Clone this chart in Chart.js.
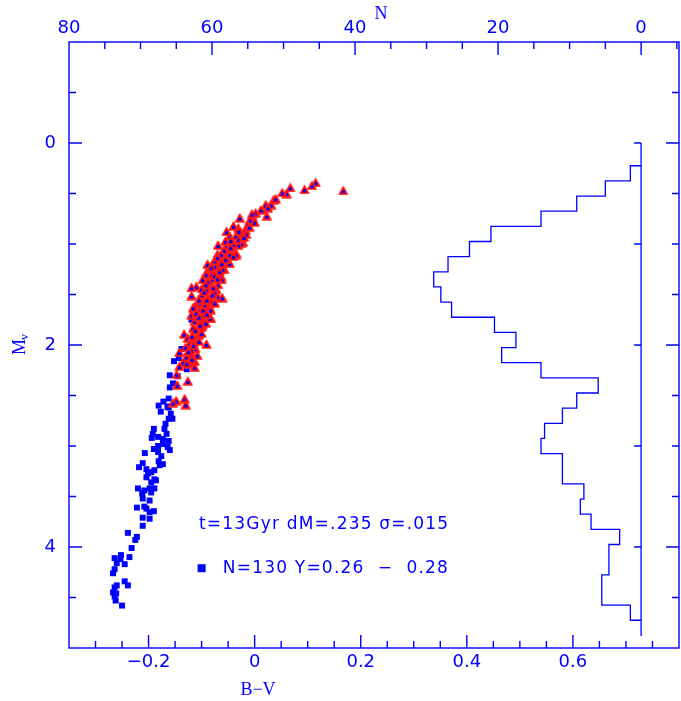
<!DOCTYPE html>
<html>
<head>
<meta charset="utf-8">
<script src="https://cdn.jsdelivr.net/npm/chart.js@4"></script>
<style>
  body { margin: 0; background: #ffffff; }
  #cmd { display: block; }
</style>
</head>
<body>
<canvas id="cmd" width="681" height="701"></canvas>
<script>
// blue squares: B-V and Mv
let blueBV = [-0.138,-0.152,-0.143,-0.128,-0.160,-0.145,-0.154,-0.160,-0.172,-0.162,-0.181,-0.164,-0.177,-0.158,-0.155,-0.162,
  -0.168,-0.190,-0.170,-0.166,-0.192,-0.194,-0.182,-0.173,-0.162,-0.173,-0.182,-0.164,-0.160,-0.190,-0.207,-0.182,
  -0.176,-0.181,-0.173,-0.211,-0.179,-0.218,-0.204,-0.189,-0.201,-0.195,-0.204,-0.189,-0.186,-0.195,-0.220,-0.198,
  -0.189,-0.208,-0.195,-0.212,-0.211,-0.198,-0.208,-0.222,-0.204,-0.190,-0.198,-0.211,-0.198,-0.211,-0.239,-0.222,
  -0.225,-0.232,-0.252,-0.264,-0.236,-0.253,-0.260,-0.245,-0.264,-0.267,-0.245,-0.239,-0.260,-0.264,-0.267,-0.261,
  -0.264,-0.262,-0.250,-0.119,-0.110,-0.164,-0.162];
let blueMv = [2.04,2.16,2.13,2.24,2.30,2.31,2.38,2.42,2.56,2.53,2.60,2.61,2.66,2.68,2.73,2.73,
  2.78,2.83,2.83,2.88,2.88,2.92,2.91,2.93,2.95,2.98,3.00,3.01,3.04,3.03,3.07,3.06,
  3.10,3.15,3.18,3.17,3.19,3.21,3.23,3.24,3.27,3.26,3.31,3.33,3.34,3.36,3.42,3.42,
  3.42,3.44,3.46,3.47,3.52,3.54,3.60,3.61,3.62,3.645,3.655,3.71,3.72,3.79,3.86,3.90,
  3.93,4.01,4.08,4.11,4.10,4.12,4.16,4.17,4.22,4.26,4.34,4.38,4.38,4.40,4.45,4.46,
  4.49,4.53,4.58,1.75,1.62,2.61,2.62];

// red triangles: B-V and Mv
let redBV = [0.167,0.115,0.108,0.094,0.067,0.060,0.052,0.036,0.031,0.021,0.025,0.023,0.002,-0.004,-0.009,-0.028,
  -0.013,-0.017,-0.031,-0.025,-0.016,-0.053,-0.047,-0.035,-0.022,-0.025,-0.031,-0.069,-0.053,-0.044,-0.035,-0.053,
  -0.047,-0.035,-0.060,-0.066,-0.066,-0.050,-0.047,-0.079,-0.089,-0.069,-0.075,-0.057,-0.060,-0.085,-0.091,-0.072,
  -0.069,-0.091,-0.063,-0.082,-0.098,-0.079,-0.062,-0.085,-0.069,-0.110,-0.085,-0.119,-0.091,-0.072,-0.075,-0.096,
  -0.100,-0.119,-0.069,-0.061,-0.088,-0.098,-0.082,-0.104,-0.113,-0.085,-0.091,-0.116,-0.104,-0.083,-0.107,-0.119,
  -0.094,-0.098,-0.083,-0.084,-0.110,-0.113,-0.098,-0.116,-0.107,-0.133,-0.126,-0.110,-0.091,-0.123,-0.112,-0.142,
  -0.119,-0.129,-0.113,-0.135,-0.123,-0.142,-0.113,-0.147,-0.126,-0.146,-0.132,-0.148,-0.154,-0.130,
  -0.040,-0.050,-0.060,-0.070,-0.080,-0.090,-0.100,-0.105,-0.095,-0.100,-0.105,-0.115,-0.120,-0.130,-0.100,-0.110,
  -0.075,-0.055,-0.040,-0.030,
  -0.045,-0.058,-0.063,-0.040,-0.070,-0.055,-0.062,-0.082,-0.066,-0.076,-0.070,-0.088,-0.078,-0.092,-0.095,-0.080,
  -0.090,-0.075,-0.097,-0.090,-0.105,-0.092,-0.103,-0.112,-0.100,-0.118,-0.105,-0.115,-0.125,-0.108,-0.118,-0.128,
  -0.030,-0.020,-0.045,-0.010,0.000,0.012,0.040,-0.005];
let redMv = [0.47,0.39,0.42,0.46,0.44,0.50,0.49,0.56,0.61,0.61,0.64,0.72,0.69,0.73,0.76,0.74,
  0.81,0.86,0.84,0.89,0.90,0.875,0.92,0.92,0.98,0.99,1.01,1.01,1.02,1.06,1.09,1.09,
  1.10,1.105,1.12,1.14,1.15,1.17,1.19,1.20,1.20,1.22,1.22,1.25,1.25,1.25,1.28,1.29,
  1.29,1.30,1.32,1.335,1.35,1.35,1.35,1.40,1.40,1.42,1.42,1.43,1.45,1.45,1.48,1.48,
  1.50,1.51,1.52,1.53,1.53,1.57,1.57,1.58,1.62,1.62,1.62,1.63,1.65,1.65,1.68,1.70,
  1.71,1.71,1.73,1.73,1.75,1.76,1.80,1.83,1.86,1.89,1.93,1.94,1.99,1.99,2.03,2.07,
  2.09,2.12,2.16,2.17,2.19,2.21,2.22,2.29,2.355,2.395,2.53,2.55,2.57,2.59,
  1.00,1.05,1.08,1.10,1.30,1.38,1.44,1.55,1.60,1.75,1.90,1.97,2.05,2.02,1.82,1.68,
  1.16,0.97,0.82,0.95,
  1.03,1.06,1.10,1.12,1.13,1.15,1.19,1.23,1.27,1.31,1.34,1.37,1.43,1.40,1.47,1.50,
  1.55,1.58,1.65,1.69,1.72,1.78,1.80,1.85,1.88,1.91,1.96,2.00,2.06,2.10,2.14,2.18,
  0.87,0.93,0.96,0.83,0.78,0.66,0.55,0.70];

// histogram of Mv (N per 0.15 mag bin), drawn against the top N axis
let histEdges = [0.225,0.375,0.525,0.675,0.825,0.975,1.125,1.275,1.425,1.575,1.725,1.875,2.025,2.175,2.325,2.475,
  2.625,2.775,2.925,3.075,3.225,3.375,3.525,3.675,3.825,3.975,4.125,4.275,4.425,4.575,4.725];
let histN = [1.5,5,9,14,21,24,27,29,28,26.5,20.5,17.5,19.5,14,6,9,
  11,13.5,14,11,11,8,8.5,7,3,4.5,4.5,5.5,5.5,1.5];
let histBase = [0, 4.88];
let histTicks = [0, 1, 2, 3, 4];

// tick labels
let bvTicks = [-0.2, 0, 0.2, 0.4, 0.6];
let nTicks = [80, 60, 40, 20, 0];
let mvTicks = [0, 2, 4];

let blue = '#0000ff';
let red = '#ff0000';

function pairs(xs, ys) {
  let out = [];
  for (let i = 0; i < xs.length; i++) out.push({x: xs[i], y: ys[i]});
  return out;
}

function histOutline() {
  let pts = [{x: 0, y: histEdges[0]}];
  for (let i = 0; i < histN.length; i++) {
    pts.push({x: histN[i], y: histEdges[i]});
    pts.push({x: histN[i], y: histEdges[i + 1]});
  }
  pts.push({x: 0, y: histEdges[histEdges.length - 1]});
  return pts;
}

// red triangle with a small blue square in it, used as the point style
function triangleMark() {
  let c = document.createElement('canvas');
  c.width = 11;
  c.height = 10;
  let g = c.getContext('2d');
  g.beginPath();
  g.moveTo(5.5, 0.8);
  g.lineTo(10.2, 9.2);
  g.lineTo(0.8, 9.2);
  g.closePath();
  g.fillStyle = red;
  g.fill();
  g.strokeStyle = '#ff2a2a';
  g.lineWidth = 1;
  g.stroke();
  g.fillStyle = blue;
  g.fillRect(4, 5, 3, 3);
  return c;
}

// frame, inward ticks, titles and the note text
let decorations = {
  id: 'decorations',
  afterDraw(chart) {
    let ctx = chart.ctx;
    let a = chart.chartArea;
    let sx = chart.scales.x, sn = chart.scales.xN, sy = chart.scales.y;
    ctx.save();
    ctx.strokeStyle = blue;
    ctx.fillStyle = blue;
    ctx.lineWidth = 1.4;
    ctx.strokeRect(a.left, a.top, a.right - a.left, a.bottom - a.top);

    ctx.beginPath();
    // bottom B-V ticks, every 0.05, long at 0.2
    for (let k = -7; k <= 16; k++) {
      let v = k * 0.05;
      let px = sx.getPixelForValue(v);
      if (px < a.left + 1 || px > a.right - 1) continue;
      let len = (k % 4 === 0) ? 13 : 7;
      ctx.moveTo(px, a.bottom); ctx.lineTo(px, a.bottom - len);
    }
    // top N ticks, every 5, long at 20
    for (let n = -5; n <= 80; n += 5) {
      let px = sn.getPixelForValue(n);
      if (px < a.left + 1 || px > a.right - 1) continue;
      let len = (n % 20 === 0) ? 13 : 7;
      ctx.moveTo(px, a.top); ctx.lineTo(px, a.top + len);
    }
    // left and right Mv ticks, every 0.5, long at 2
    for (let k = -1; k <= 9; k++) {
      let v = k * 0.5;
      let py = sy.getPixelForValue(v);
      let len = (k % 4 === 0) ? 13 : 7;
      ctx.moveTo(a.left, py); ctx.lineTo(a.left + len, py);
      ctx.moveTo(a.right, py); ctx.lineTo(a.right - len, py);
    }
    // ticks on the histogram base line
    let bx = sn.getPixelForValue(0);
    for (let t of histTicks) {
      let py = sy.getPixelForValue(t);
      ctx.moveTo(bx, py); ctx.lineTo(bx - 7, py);
    }
    ctx.stroke();

    // axis titles
    ctx.textAlign = 'center';
    ctx.textBaseline = 'middle';
    ctx.font = '18px "Liberation Serif"';
    ctx.fillText('N', 381, 14);
    ctx.fillText('B\u2212V', 258, 690);
    ctx.save();
    ctx.translate(20, 345);
    ctx.rotate(-Math.PI / 2);
    ctx.font = '18px "Liberation Serif"';
    ctx.fillText('M', -2, 0);
    ctx.font = '12px "Liberation Serif"';
    ctx.fillText('v', 8, 5);
    ctx.restore();

    // note text
    ctx.textAlign = 'left';
    ctx.font = '17px "DejaVu Sans"';
    ctx.letterSpacing = '1.2px';
    ctx.fillText('t=13Gyr dM=.235 \u03c3=.015', sx.getPixelForValue(-0.105), sy.getPixelForValue(3.78));
    ctx.fillText('N=130 Y=0.26  \u2212  0.28', sx.getPixelForValue(-0.060), sy.getPixelForValue(4.21));
    ctx.letterSpacing = '0px';
    let mx = sx.getPixelForValue(-0.100), my = sy.getPixelForValue(4.21);
    ctx.fillRect(mx - 4, my - 4, 8, 8);
    ctx.restore();
  }
};

function fixTicks(values) {
  return function(scale) {
    scale.ticks = values.map(v => ({value: v}));
  };
}

let tickFont = {family: 'DejaVu Sans', size: 18};

let ctx = document.getElementById('cmd').getContext('2d');
let myChart = new Chart(ctx, {
  type: 'scatter',
  data: {
    datasets: [
      {
        label: 'red',
        data: pairs(redBV, redMv),
        pointStyle: triangleMark(),
        pointRadius: 5,
        order: 1
      },
      {
        label: 'blue',
        data: pairs(blueBV, blueMv),
        pointStyle: 'rect',
        pointRadius: 4.2,
        backgroundColor: blue,
        borderWidth: 0,
        order: 2
      },
      {
        type: 'line',
        label: 'histogram',
        data: histOutline(),
        xAxisID: 'xN',
        yAxisID: 'y',
        borderColor: blue,
        borderWidth: 1.3,
        pointRadius: 0,
        fill: false,
        tension: 0,
        order: 3
      },
      {
        type: 'line',
        label: 'base',
        data: [{x: 0, y: histBase[0]}, {x: 0, y: histBase[1]}],
        xAxisID: 'xN',
        yAxisID: 'y',
        borderColor: blue,
        borderWidth: 1.3,
        pointRadius: 0,
        fill: false,
        order: 4
      }
    ]
  },
  options: {
    responsive: false,
    animation: false,
    devicePixelRatio: 1,
    events: [],
    layout: {autoPadding: false, padding: {left: 0, right: 2, top: 0, bottom: 0}},
    plugins: {
      legend: {display: false},
      tooltip: {enabled: false}
    },
    scales: {
      x: {
        type: 'linear',
        position: 'bottom',
        min: -0.35,
        max: 0.8,
        afterBuildTicks: fixTicks(bvTicks),
        afterFit: function(scale) { scale.height = 53; },
        border: {display: false},
        grid: {display: false, drawTicks: false},
        ticks: {
          color: blue,
          font: tickFont,
          padding: 4,
          maxRotation: 0,
          autoSkip: false,
          callback: v => String(v).replace('-', '\u2212')
        }
      },
      xN: {
        type: 'linear',
        position: 'top',
        reverse: true,
        min: -5.3,
        max: 80,
        afterBuildTicks: fixTicks(nTicks),
        afterFit: function(scale) { scale.height = 42; },
        border: {display: false},
        grid: {display: false, drawTicks: false},
        ticks: {color: blue, font: tickFont, padding: 3, maxRotation: 0, autoSkip: false}
      },
      y: {
        type: 'linear',
        position: 'left',
        reverse: true,
        min: -1,
        max: 5,
        afterBuildTicks: fixTicks(mvTicks),
        afterFit: function(scale) { scale.width = 69; },
        border: {display: false},
        grid: {display: false, drawTicks: false},
        ticks: {color: blue, font: tickFont, padding: 13, autoSkip: false}
      }
    }
  },
  plugins: [decorations]
});
</script>
</body>
</html>
